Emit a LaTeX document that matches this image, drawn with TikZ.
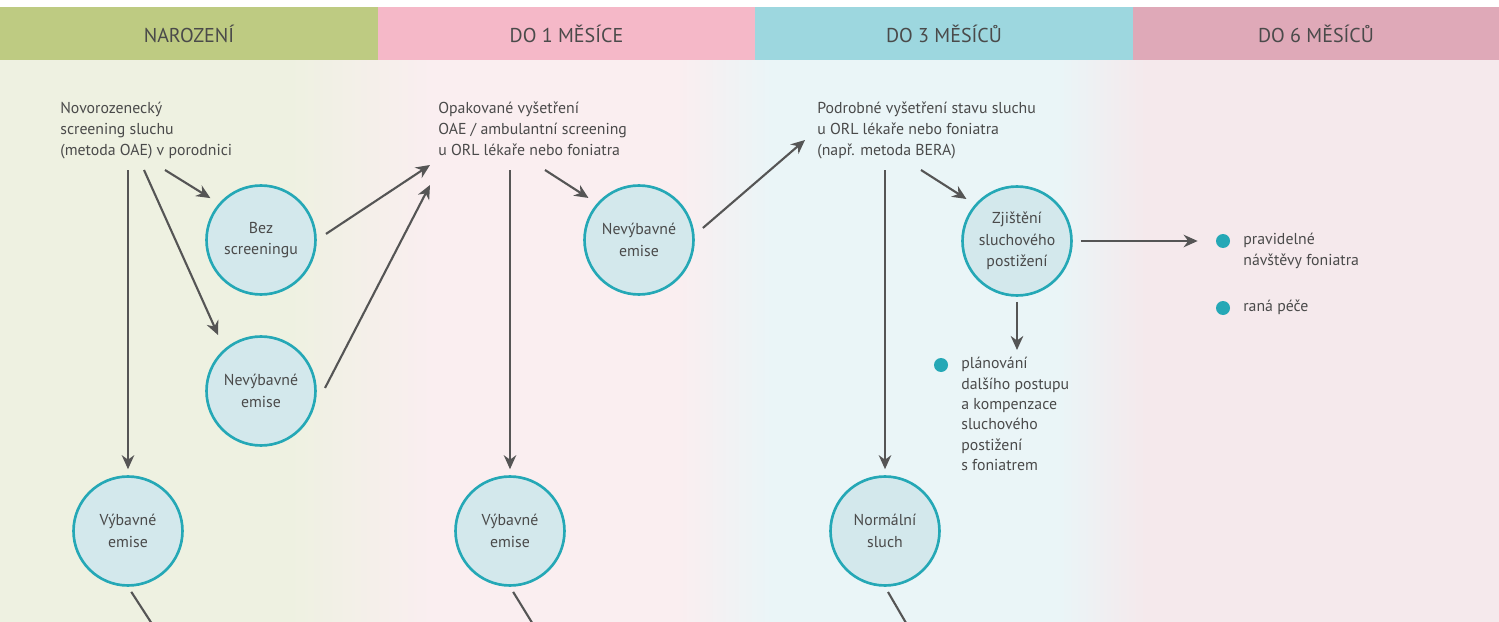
\documentclass[tikz,border=0pt]{standalone}
\usepackage{fontspec}
\setmainfont{PT Sans}
\usepackage{tikz}
\usetikzlibrary{arrows.meta, positioning, calc}

\definecolor{hdrgreen}{HTML}{BECB82}
\definecolor{hdrpink}{HTML}{F5B8C8}
\definecolor{hdrteal}{HTML}{9DD7DF}
\definecolor{hdrmauve}{HTML}{DFA9B8}
\definecolor{bggreen}{HTML}{EEF1E1}
\definecolor{bgpink}{HTML}{FAEEF0}
\definecolor{bgcyan}{HTML}{EAF5F7}
\definecolor{bgmauve}{HTML}{F5E9EC}
\definecolor{ringteal}{HTML}{25A8B6}
\definecolor{ringfill}{HTML}{D3E8EC}
\definecolor{arrowgray}{HTML}{555555}
\definecolor{txtgray}{HTML}{4A4A4A}

\begin{document}
\begin{tikzpicture}[x=0.02cm, y=-0.02cm]
\tikzstyle{head} = [font=\fontsize{11.4}{13}\selectfont, text=txtgray]
\tikzstyle{exam} = [anchor=north west, align=left, inner sep=0, font=\fontsize{9}{11.9}\selectfont, text=txtgray]
\tikzstyle{outcome} = [circle, draw=ringteal, line width=1.5pt, fill=ringfill, minimum size=2.18cm, inner sep=0, align=center, font=\fontsize{9}{12.4}\selectfont, text=txtgray]
\tikzstyle{tealdot} = [circle, fill=ringteal, minimum size=0.28cm, inner sep=0]
\tikzstyle{arr} = [-{Stealth[length=2.8mm, width=2.5mm, inset=0.9mm]}, line width=1.2pt, draw=arrowgray]
\tikzstyle{tail} = [line width=1.2pt, draw=arrowgray]
\useasboundingbox (0,0) rectangle (1499,622);
\clip (0,0) rectangle (1499,622);
% column backgrounds
\fill[white] (0,0) rectangle (1499,7);
\fill[bggreen] (0,60) rectangle (291,622);
\shade[left color=bggreen, right color=bgpink] (290,60) rectangle (431,622);
\fill[bgpink] (430,60) rectangle (681,622);
\shade[left color=bgpink, right color=bgcyan] (680,60) rectangle (771,622);
\fill[bgcyan] (770,60) rectangle (1061,622);
\shade[left color=bgcyan, right color=bgmauve] (1060,60) rectangle (1146,622);
\fill[bgmauve] (1145,60) rectangle (1499,622);
\foreach \a/\b/\c/\t [count=\i] in {0/378/hdrgreen/NAROZENÍ, 378/755/hdrpink/DO 1 MĚSÍCE, 755/1133/hdrteal/DO 3 MĚSÍCŮ, 1133/1499/hdrmauve/DO 6 MĚSÍCŮ} {
    \fill[\c] (\a,7) rectangle (\b,60);
    \node[head] (hd\i) at ({(\a+\b)/2},34) {\t};
}
% examinations
\node[exam] (novo) at (60,102) {Novorozenecký\\screening sluchu\\(metoda OAE) v porodnici};
\node[exam] (opak) at (438,102) {Opakované vyšetření\\OAE / ambulantní screening\\u ORL lékaře nebo foniatra};
\node[exam] (podr) at (817,102) {Podrobné vyšetření stavu sluchu\\u ORL lékaře nebo foniatra\\(např. metoda BERA)};
% outcomes
\node[outcome] (bez) at (261,240) {Bez\\screeningu};
\node[outcome] (nev1) at (261,391) {Nevýbavné\\emise};
\node[outcome] (vyb1) at (128,531) {Výbavné\\emise};
\node[outcome] (nev2) at (639,240) {Nevýbavné\\emise};
\node[outcome] (vyb2) at (510,531) {Výbavné\\emise};
\node[outcome] (zjis) at (1017,241) {Zjištění\\sluchového\\postižení};
\node[outcome] (norm) at (885,531) {Normální\\sluch};
% follow-up
\node[tealdot] (d1) at (1223,241) {};
\node[exam] (prav) at (1243,233) {pravidelné\\návštěvy foniatra};
\node[tealdot] (d2) at (1223,308) {};
\node[exam] (rana) at (1243,300) {raná péče};
\node[tealdot] (d3) at (941,365) {};
\node[exam, font=\fontsize{9}{11.6}\selectfont] (plan) at (961,357) {plánování\\dalšího postupu\\a kompenzace\\sluchového\\postižení\\s foniatrem};
% birth
\draw[arr, shorten >=0.12cm] ([shift={(68,68)}]novo.north west) -- (vyb1);
\draw[arr, shorten >=0.3cm] ([shift={(84,68)}]novo.north west) -- (nev1.131);
\draw[arr, shorten >=0.2cm] ([shift={(105,68)}]novo.north west) -- (bez.139);
\draw[arr, shorten <=0.22cm] (bez.0) -- ([shift={(-8,63)}]opak.north west);
\draw[arr, shorten <=0.52cm] (nev1.-21) -- ([shift={(-8,83)}]opak.north west);
% 1 month
\draw[arr, shorten >=0.12cm] ([shift={(72,68)}]opak.north west) -- (vyb2);
\draw[arr, shorten >=0.2cm] ([shift={(107,68)}]opak.north west) -- (nev2.139);
\draw[arr, shorten <=0.22cm] (nev2.5) -- ([shift={(-12,38)}]podr.north west);
% 3 months
\draw[arr, shorten >=0.12cm] ([shift={(68,68)}]podr.north west) -- (norm);
\draw[arr, shorten >=0.2cm] ([shift={(104,68)}]podr.north west) -- (zjis.139);
\draw[arr, shorten <=0.16cm, shorten >=0.36cm] (zjis) -- (d1);
\draw[arr, shorten <=0.1cm, shorten >=0.14cm] (zjis) -- (zjis |- plan.north);
% lines running off the page
\coordinate (out1) at (167,647);
\coordinate (out2) at (547,647);
\coordinate (out3) at (920,647);
\draw[tail, shorten <=0.12cm] (vyb1.south) -- (out1);
\draw[tail, shorten <=0.12cm] (vyb2.south) -- (out2);
\draw[tail, shorten <=0.12cm] (norm.south) -- (out3);
\end{tikzpicture}
\end{document}
